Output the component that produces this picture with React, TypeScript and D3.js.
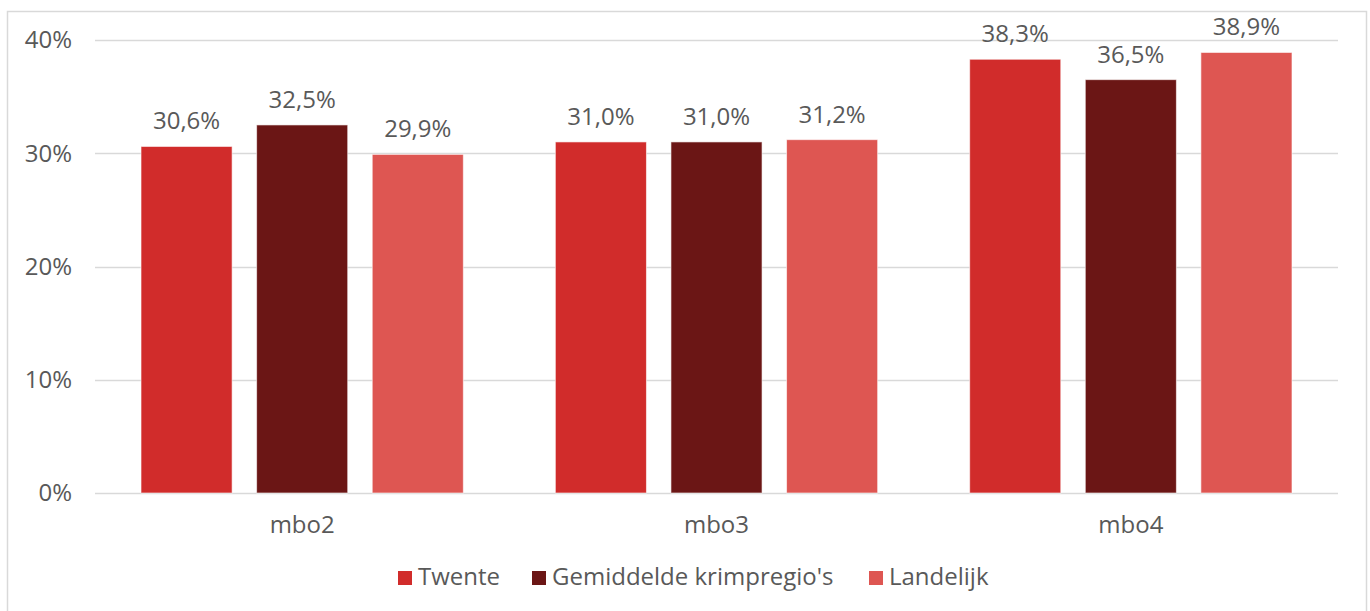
import React from 'react';
import * as d3 from 'd3';

const width = 1370;
const height = 611;

// data
const categories = ['mbo2', 'mbo3', 'mbo4'];
const seriesNames = ['Twente', "Gemiddelde krimpregio's", 'Landelijk'];
const twente = [30.6, 31.0, 38.3];
const krimpregios = [32.5, 31.0, 36.5];
const landelijk = [29.9, 31.2, 38.9];
const yTicks = [0, 10, 20, 30, 40];
const colors = ['#D12C2B', '#6B1615', '#DE5652'];

const seriesValues = [twente, krimpregios, landelijk];

const margin = { left: 95, right: 32, top: 40, bottom: 118 };
const font = "'Open Sans', Lato, sans-serif";
const textColor = '#595959';
const fontSize = 24;

const App = () => {
  const x0 = d3
    .scaleBand()
    .domain(categories)
    .range([margin.left, width - margin.right])
    .paddingInner(0)
    .paddingOuter(0);

  const x1 = d3
    .scaleBand()
    .domain(seriesNames)
    .range([0, x0.bandwidth()])
    .paddingInner(0.212)
    .paddingOuter(0.398);

  const y = d3
    .scaleLinear()
    .domain([0, 40])
    .range([493, 40]);

  const fmt = (v: number) => v.toFixed(1).replace('.', ',') + '%';

  // legend layout (item start x, swatch then text)
  const legendX = [398, 532, 869];

  return (
    <svg
      width={width}
      height={height}
      style={{ position: 'absolute', left: 0, top: 0, background: '#fff' }}
      fontFamily={font}
    >
      <rect x={7.5} y={11.5} width={1359} height={640} fill="#fff" stroke="#d9d9d9" strokeWidth={1.5} />

      {/* gridlines and tick labels */}
      {yTicks.map(t => (
        <g key={t}>
          <line
            x1={margin.left}
            x2={width - margin.right}
            y1={Math.round(y(t)) + 0.5}
            y2={Math.round(y(t)) + 0.5}
            stroke="#d9d9d9"
            strokeWidth={1.5}
          />
          <text
            x={72}
            y={y(t)}
            dy="0.35em"
            textAnchor="end"
            fontSize={fontSize}
            fill={textColor}
          >
            {t}%
          </text>
        </g>
      ))}

      {/* bars */}
      {categories.map((cat, ci) => (
        <g key={cat} transform={`translate(${x0(cat)},0)`}>
          {seriesNames.map((s, si) => {
            const v = seriesValues[si][ci];
            const bx = x1(s) as number;
            return (
              <g key={s}>
                <rect
                  x={bx}
                  y={y(v)}
                  width={x1.bandwidth()}
                  height={y(0) - y(v)}
                  fill={colors[si]}
                  stroke="#ffffff"
                  strokeOpacity={0.6}
                  strokeWidth={1}
                />
                <text
                  x={bx + x1.bandwidth() / 2}
                  y={y(v) - 17}
                  textAnchor="middle"
                  fontSize={fontSize}
                  fill={textColor}
                >
                  {fmt(v)}
                </text>
              </g>
            );
          })}
          <text
            x={x0.bandwidth() / 2}
            y={533}
            textAnchor="middle"
            fontSize={fontSize}
            fill={textColor}
          >
            {cat}
          </text>
        </g>
      ))}

      {/* legend */}
      {seriesNames.map((s, i) => (
        <g key={s} transform={`translate(${legendX[i]},571)`}>
          <rect width={14} height={14} fill={colors[i]} />
          <text x={20} y={14} fontSize={fontSize} fill={textColor}>
            {s}
          </text>
        </g>
      ))}
    </svg>
  );
};

export default App;
